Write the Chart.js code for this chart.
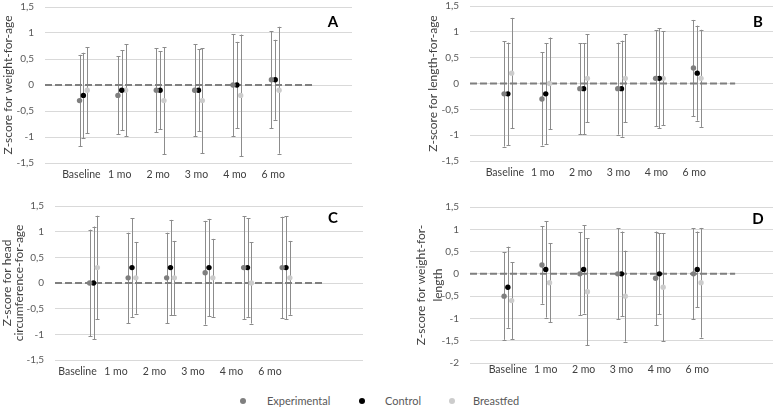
<!DOCTYPE html>
<html>
<head>
<meta charset="utf-8">
<script src="https://cdn.jsdelivr.net/npm/chart.js@4.4.1/dist/chart.umd.min.js"></script>
<style>
  body { margin: 0; background: #fff; font-family: Lato, "Open Sans", sans-serif; }
  #wrap { position: relative; width: 777px; height: 408px; overflow: hidden; }
  .panel { position: absolute; }
  .letter { position: absolute; font: bold 15px Lato, sans-serif; color: #000; transform: translate(-50%, -50%); }
  #legend { position: absolute; left: 0; top: 394px; width: 777px; height: 14px; }
  .item { position: absolute; font-size: 11px; color: #595959; line-height: 14px; }
  .dot { position: absolute; width: 6px; height: 6px; border-radius: 50%; top: 4px; }
</style>
</head>
<body>
<div id="wrap">
  <canvas id="chartA" class="panel"></canvas>
  <canvas id="chartB" class="panel"></canvas>
  <canvas id="chartC" class="panel"></canvas>
  <canvas id="chartD" class="panel"></canvas>
  <div class="letter" style="left:333px;top:21px">A</div>
  <div class="letter" style="left:758px;top:21px">B</div>
  <div class="letter" style="left:333px;top:217px">C</div>
  <div class="letter" style="left:758px;top:218px">D</div>
  <div id="legend"></div>
</div>
<script>
const tickLabels = ["Baseline", "1 mo", "2 mo", "3 mo", "4 mo", "6 mo"];
const seriesNames = ["Experimental", "Control", "Breastfed"];

// A - weight-for-age
const aExp = [-0.3, -0.2, -0.1, -0.1, 0, 0.1];
const aExpErr = [0.88, 0.75, 0.81, 0.88, 0.98, 0.93];
const aCtrl = [-0.2, -0.1, -0.1, -0.1, 0, 0.1];
const aCtrlErr = [0.82, 0.77, 0.75, 0.79, 0.83, 0.77];
const aBf = [-0.1, -0.1, -0.3, -0.3, -0.2, -0.1];
const aBfErr = [0.83, 0.88, 1.03, 1.01, 1.17, 1.22];

// B - length-for-age
const bExp = [-0.2, -0.3, -0.1, -0.1, 0.1, 0.3];
const bExpErr = [1.02, 0.9, 0.88, 0.89, 0.93, 0.93];
const bCtrl = [-0.2, -0.2, -0.1, -0.1, 0.1, 0.2];
const bCtrlErr = [0.99, 0.98, 0.88, 0.93, 0.97, 0.92];
const bBf = [0.2, 0, 0.1, 0.1, 0.1, 0.1];
const bBfErr = [1.07, 0.89, 0.85, 0.85, 0.91, 0.94];

// C - head circumference-for-age
const cExp = [0, 0.1, 0.1, 0.2, 0.3, 0.3];
const cExpErr = [1.04, 0.88, 0.88, 1.01, 1.0, 0.99];
const cCtrl = [0, 0.3, 0.3, 0.3, 0.3, 0.3];
const cCtrlErr = [1.1, 0.96, 0.93, 0.95, 0.96, 1.0];
const cBf = [0.3, 0.1, 0.1, 0.1, 0, 0.1];
const cBfErr = [1.01, 0.7, 0.72, 0.76, 0.79, 0.72];

// D - weight-for-length
const dExp = [-0.5, 0.2, 0, 0, -0.1, 0];
const dExpErr = [0.98, 0.87, 0.93, 1.02, 1.05, 1.02];
const dCtrl = [-0.3, 0.1, 0.1, 0, 0, 0.1];
const dCtrlErr = [0.91, 1.08, 0.99, 0.95, 0.91, 0.85];
const dBf = [-0.6, -0.2, -0.4, -0.5, -0.3, -0.2];
const dBfErr = [0.86, 0.89, 1.2, 1.02, 1.21, 1.23];

const colors = ["#7f7f7f", "#000000", "#cccccc"];
const shifts = [-0.1, 0, 0.1];
const barColor = "#8c8c8c";
const fontFamily = "Lato, 'Open Sans', sans-serif";

const errorBars = {
    id: "errorBars",
    beforeDatasetsDraw(chart) {
        const ctx = chart.ctx;
        const yScale = chart.scales.y;
        ctx.save();
        ctx.strokeStyle = barColor;
        ctx.lineWidth = 1;
        chart.data.datasets.forEach(function(ds, di) {
            if (!ds.errors) return;
            const meta = chart.getDatasetMeta(di);
            meta.data.forEach(function(pt, i) {
                const v = ds.data[i].y;
                const top = yScale.getPixelForValue(v + ds.errors[i]);
                const bottom = yScale.getPixelForValue(v - ds.errors[i]);
                const x = Math.round(pt.x) + 0.5;
                ctx.beginPath();
                ctx.moveTo(x, top);
                ctx.lineTo(x, bottom);
                ctx.moveTo(x - 2, Math.round(top) + 0.5);
                ctx.lineTo(x + 2, Math.round(top) + 0.5);
                ctx.moveTo(x - 2, Math.round(bottom) + 0.5);
                ctx.lineTo(x + 2, Math.round(bottom) + 0.5);
                ctx.stroke();
            });
        });
        ctx.restore();
    }
};

function makePanel(id, box, values, errors, opts) {
    const canvas = document.getElementById(id);
    canvas.style.left = box.left + "px";
    canvas.style.top = box.top + "px";
    canvas.style.width = box.width + "px";
    canvas.style.height = box.height + "px";
    canvas.width = box.width;
    canvas.height = box.height;

    let datasets = [{
        type: "line",
        data: [{x: 0, y: 0}, {x: 7, y: 0}],
        borderColor: "#7f7f7f",
        borderWidth: 2,
        borderDash: [7, 3],
        pointRadius: 0,
        order: 5
    }];
    values.forEach(function(vals, s) {
        datasets.push({
            type: "scatter",
            label: seriesNames[s],
            data: vals.map(function(v, i) { return {x: i + 1 + shifts[s], y: v}; }),
            errors: errors[s],
            backgroundColor: colors[s],
            borderWidth: 0,
            pointRadius: 2.7,
            order: 1
        });
    });

    return new Chart(canvas, {
        type: "scatter",
        data: { datasets: datasets },
        plugins: [errorBars],
        options: {
            responsive: false,
            animation: false,
            events: [],
            layout: { padding: { left: 0, right: box.padRight, top: box.padTop, bottom: 0 } },
            plugins: { legend: { display: false }, tooltip: { enabled: false } },
            scales: {
                x: {
                    type: "linear",
                    min: 0,
                    max: 8,
                    grid: { display: false, drawTicks: false },
                    border: { display: false },
                    afterFit: function(scale) {
                        scale.height = box.xHeight;
                        scale.paddingLeft = 0;
                        scale.paddingRight = 0;
                    },
                    afterBuildTicks: function(scale) {
                        scale.ticks = tickLabels.map(function(_, i) { return {value: i + 1}; });
                    },
                    ticks: {
                        autoSkip: false,
                        maxRotation: 0,
                        padding: box.xPad,
                        labelOffset: opts.labelOffset || 0,
                        color: "#404040",
                        font: { family: fontFamily, size: 10.5 },
                        callback: function(v) { return tickLabels[Math.round(v) - 1] || ""; }
                    }
                },
                y: {
                    min: opts.min,
                    max: 1.5,
                    afterFit: function(scale) {
                        scale.width = box.yWidth;
                        scale.paddingTop = 0;
                        scale.paddingBottom = 0;
                    },
                    grid: { color: "#d9d9d9", drawTicks: false },
                    border: { display: false },
                    ticks: {
                        stepSize: 0.5,
                        padding: 11,
                        color: "#595959",
                        font: { family: fontFamily, size: 10 },
                        callback: function(v) { return String(v).replace(".", ","); }
                    },
                    title: {
                        display: true,
                        text: opts.title,
                        color: "#404040",
                        padding: { top: opts.titlePad, bottom: 0 },
                        font: { family: fontFamily, size: 12, lineHeight: opts.titleLH || 1 }
                    }
                }
            }
        }
    });
}

makePanel("chartA",
    {left: 0, top: 0, width: 388, height: 190, padRight: 36, padTop: 7, xHeight: 27, yWidth: 45, xPad: 5},
    [aExp, aCtrl, aBf], [aExpErr, aCtrlErr, aBfErr],
    {min: -1.5, title: "Z-score for weight-for-age", titlePad: 2, labelOffset: -2});

makePanel("chartB",
    {left: 388, top: 0, width: 389, height: 190, padRight: 0, padTop: 6, xHeight: 29, yWidth: 82, xPad: 5},
    [bExp, bCtrl, bBf], [bExpErr, bCtrlErr, bBfErr],
    {min: -1.5, title: "Z-score for length-for-age", titlePad: 39, labelOffset: -3});

makePanel("chartC",
    {left: 0, top: 190, width: 388, height: 190, padRight: 25, padTop: 16, xHeight: 20, yWidth: 55, xPad: 5},
    [cExp, cCtrl, cBf], [cExpErr, cCtrlErr, cBfErr],
    {min: -1.5, title: ["Z-score for head", "circumference-for-age"], titlePad: 1, labelOffset: -16});

makePanel("chartD",
    {left: 388, top: 190, width: 389, height: 190, padRight: 0, padTop: 17, xHeight: 17, yWidth: 82, xPad: 0},
    [dExp, dCtrl, dBf], [dExpErr, dCtrlErr, dBfErr],
    {min: -2, title: ["Z-score for weight-for-", "length"], titlePad: 25, titleLH: 1.4, labelOffset: 0});

// legend
const legend = document.getElementById("legend");
const legendDots = [243, 362, 452];
const legendText = [267, 385, 473];
seriesNames.forEach(function(name, i) {
    let dot = document.createElement("div");
    dot.className = "dot";
    dot.style.left = (legendDots[i] - 3) + "px";
    dot.style.background = colors[i];
    let label = document.createElement("div");
    label.className = "item";
    label.style.left = legendText[i] + "px";
    label.innerHTML = name;
    legend.appendChild(dot);
    legend.appendChild(label);
});
</script>
</body>
</html>
